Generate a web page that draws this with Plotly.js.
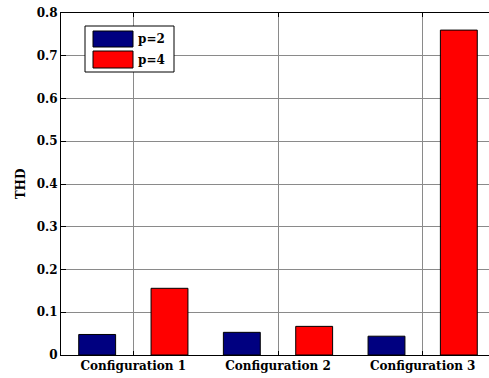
<!DOCTYPE html>
<html>
<head>
<meta charset="utf-8">
<script src="https://cdn.plot.ly/plotly-3.0.1.min.js"></script>
<style>
html, body { margin: 0; padding: 0; overflow: hidden; background: #fff; }
#chart { width: 495px; height: 378px; }
</style>
</head>
<body>
<div id="chart"></div>
<script>
const categories = ['Configuration 1', 'Configuration 2', 'Configuration 3'];
const seriesNames = ['p=2', 'p=4'];
const p2Values = [0.048, 0.053, 0.044];
const p4Values = [0.156, 0.067, 0.760];
const seriesColors = ['#000080', '#FF0000'];
const yTickVals = [0, 0.1, 0.2, 0.3, 0.4, 0.5, 0.6, 0.7, 0.8];
const yTickText = ['0', '0.1', '0.2', '0.3', '0.4', '0.5', '0.6', '0.7', '0.8'];

const FONT = 'DejaVu Serif';

const traces = [p2Values, p4Values].map((vals, i) => ({
  type: 'bar',
  name: seriesNames[i],
  x: categories,
  y: vals,
  marker: { color: seriesColors[i], line: { color: '#000', width: 1 } },
  showlegend: false,
  hoverinfo: 'skip'
}));

// legend drawn manually to match the wide MATLAB swatches
const toPX = px => (px - 61) / 434;
const toPY = py => (355 - py) / 342;
const shapes = [
  { type: 'rect', xref: 'paper', yref: 'paper', x0: toPX(85), x1: toPX(174), y0: toPY(72), y1: toPY(26),
    line: { color: '#000', width: 1 }, fillcolor: '#fff', layer: 'above' },
  { type: 'rect', xref: 'paper', yref: 'paper', x0: toPX(93), x1: toPX(133), y0: toPY(47), y1: toPY(31),
    line: { color: '#000', width: 1 }, fillcolor: seriesColors[0], layer: 'above' },
  { type: 'rect', xref: 'paper', yref: 'paper', x0: toPX(93), x1: toPX(133), y0: toPY(68), y1: toPY(51),
    line: { color: '#000', width: 1 }, fillcolor: seriesColors[1], layer: 'above' }
];
const annotations = [
  { xref: 'paper', yref: 'paper', x: toPX(136), y: toPY(39), xanchor: 'left', yanchor: 'middle',
    text: seriesNames[0], showarrow: false, font: { family: FONT, size: 12, color: '#000', weight: 'bold' } },
  { xref: 'paper', yref: 'paper', x: toPX(136), y: toPY(60), xanchor: 'left', yanchor: 'middle',
    text: seriesNames[1], showarrow: false, font: { family: FONT, size: 12, color: '#000', weight: 'bold' } }
];

const layout = {
  width: 495,
  height: 378,
  margin: { l: 61, r: 0, t: 13, b: 23 },
  paper_bgcolor: '#fff',
  plot_bgcolor: '#fff',
  barmode: 'group',
  bargap: 0,
  bargroupgap: 0.49,
  font: { family: FONT, size: 12, color: '#000', weight: 'bold' },
  showlegend: false,
  xaxis: {
    type: 'category',
    categoryorder: 'array',
    categoryarray: categories,
    range: [-0.5, 2.5],
    showline: true, linecolor: '#000', linewidth: 1, mirror: 'allticks',
    ticks: 'inside', ticklen: 4, tickcolor: '#000', tickwidth: 1,
    showgrid: true, gridcolor: '#8a8a8a', gridwidth: 1,
    tickfont: { family: FONT, size: 12, color: '#000', weight: 'bold' },
    fixedrange: true
  },
  yaxis: {
    range: [0, 0.8],
    tickvals: yTickVals,
    ticktext: yTickText,
    showline: true, linecolor: '#000', linewidth: 1, mirror: 'allticks',
    ticks: 'inside', ticklen: 5, tickcolor: '#000', tickwidth: 1,
    showgrid: true, gridcolor: '#8a8a8a', gridwidth: 1,
    zeroline: false,
    tickfont: { family: FONT, size: 12, color: '#000', weight: 'bold' },
    title: { text: 'THD', font: { family: FONT, size: 12, color: '#000', weight: 'bold' }, standoff: 8 },
    fixedrange: true
  },
  shapes: shapes,
  annotations: annotations
};

Plotly.newPlot('chart', traces, layout, { displayModeBar: false, staticPlot: true });
</script>
</body>
</html>
